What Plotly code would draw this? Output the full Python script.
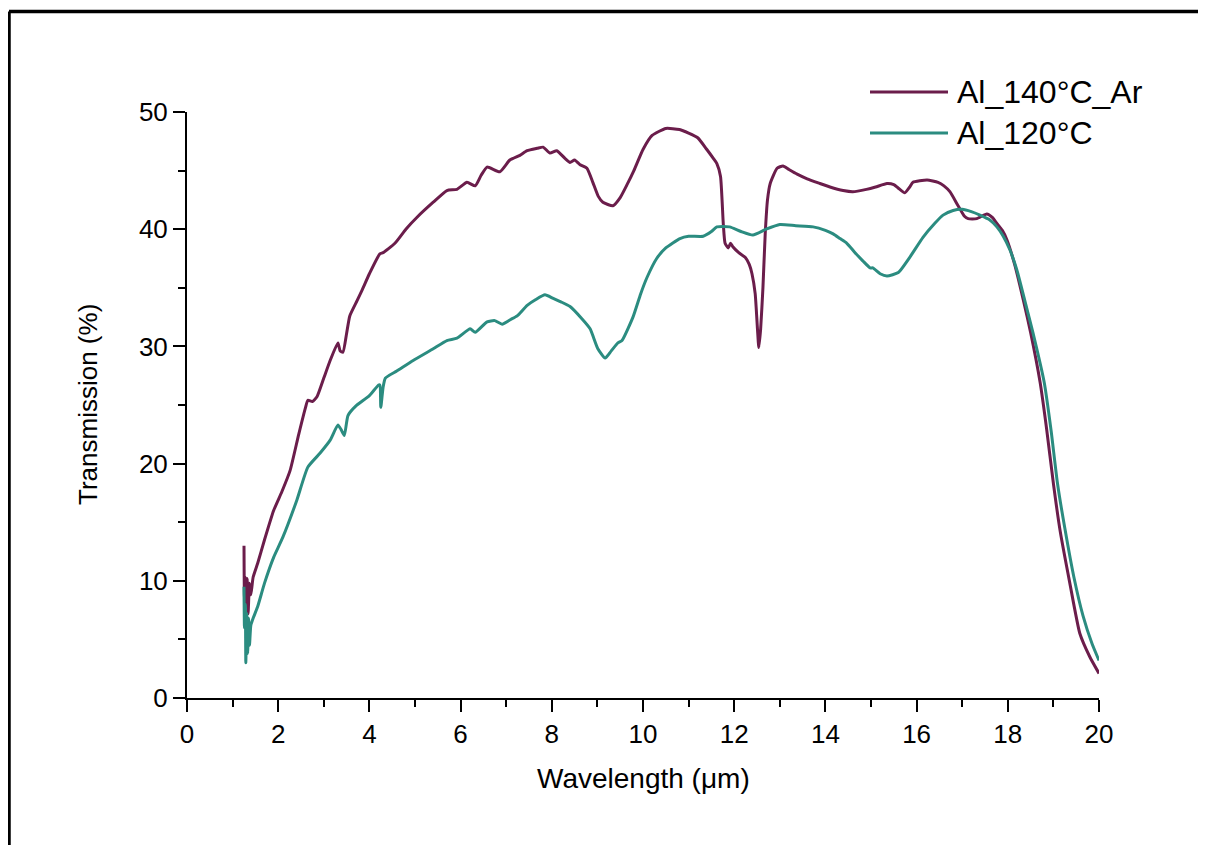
import plotly.graph_objects as go

series_names = ["Al_140°C_Ar", "Al_120°C"]
series_colors = ["#6B1D4B", "#2B8C80"]

x_ar = [1.25, 1.26, 1.28, 1.30, 1.32, 1.34, 1.37, 1.40, 1.45, 1.55, 1.70, 1.90, 2.08, 2.26, 2.45, 2.60,
        2.65, 2.75, 2.85, 3.00, 3.15, 3.31, 3.36, 3.42, 3.50, 3.57, 3.73, 3.84, 4.00, 4.23, 4.30, 4.56,
        4.80, 5.04, 5.40, 5.70, 5.92, 6.14, 6.32, 6.45, 6.58, 6.86, 7.08, 7.30, 7.46, 7.68, 7.81, 7.96,
        8.11, 8.30, 8.40, 8.50, 8.62, 8.77, 8.90, 9.02, 9.12, 9.34, 9.50, 9.65, 9.80, 10.00, 10.20, 10.50,
        10.80, 11.00, 11.20, 11.40, 11.55, 11.62, 11.70, 11.76, 11.80, 11.87, 11.92, 11.97, 12.10, 12.24,
        12.33, 12.39, 12.46, 12.51, 12.54, 12.58, 12.63, 12.68, 12.73, 12.79, 12.94, 13.07, 13.20, 13.38,
        13.60, 13.88, 14.10, 14.39, 14.60, 14.90, 15.10, 15.35, 15.50, 15.60, 15.74, 15.85, 15.92, 16.23,
        16.47, 16.60, 16.73, 16.91, 17.05, 17.13, 17.32, 17.54, 17.66, 17.76, 17.88, 17.98, 18.15, 18.35,
        18.50, 18.71, 18.85, 19.00, 19.15, 19.36, 19.58, 19.80, 20.00]
y_ar = [13.0, 8.5, 10.3, 7.8, 10.2, 7.2, 9.8, 8.8, 10.3, 11.5, 13.5, 16.0, 17.6, 19.4, 22.5, 24.8,
        25.4, 25.3, 25.7, 27.3, 28.9, 30.3, 29.6, 29.5, 31.1, 32.6, 33.9, 34.8, 36.2, 37.9, 38.0, 38.8,
        40.0, 41.0, 42.3, 43.3, 43.4, 44.0, 43.7, 44.6, 45.3, 44.9, 45.9, 46.3, 46.7, 46.9, 47.0, 46.5,
        46.7, 46.0, 45.7, 45.9, 45.5, 45.2, 44.0, 42.8, 42.3, 42.0, 42.7, 43.8, 45.0, 46.8, 48.0, 48.6,
        48.5, 48.2, 47.8, 46.8, 46.0, 45.6, 44.5, 40.5, 38.8, 38.4, 38.8, 38.5, 38.0, 37.6,
        37.0, 36.2, 34.5, 31.5, 29.9, 31.5, 35.0, 39.6, 42.5, 43.9, 45.2, 45.4, 45.1, 44.7,
        44.3, 43.9, 43.6, 43.3, 43.2, 43.4, 43.6, 43.9, 43.8, 43.5, 43.1, 43.6, 44.0, 44.2,
        44.0, 43.7, 43.2, 42.0, 41.1, 40.9, 40.9, 41.3, 41.0, 40.5, 39.9, 39.1, 37.0, 33.8,
        31.2, 26.9, 23.0, 18.3, 14.2, 9.8, 5.5, 3.5, 2.1]

x_120 = [1.25, 1.26, 1.28, 1.29, 1.31, 1.33, 1.35, 1.37, 1.40, 1.45, 1.55, 1.70, 1.90, 2.10, 2.41, 2.65,
         2.92, 3.14, 3.31, 3.38, 3.45, 3.53, 3.70, 4.00, 4.20, 4.23, 4.25, 4.30, 4.35, 4.60, 4.96, 5.40,
         5.70, 5.92, 6.21, 6.32, 6.58, 6.75, 6.91, 7.10, 7.24, 7.46, 7.65, 7.85, 8.03, 8.20, 8.40, 8.65,
         8.84, 9.01, 9.17, 9.30, 9.45, 9.54, 9.78, 9.95, 10.09, 10.30, 10.50, 10.81, 11.00, 11.32, 11.50,
         11.62, 11.90, 12.15, 12.41, 12.70, 13.00, 13.35, 13.73, 14.00, 14.17, 14.32, 14.47, 14.65, 14.82,
         14.98, 15.04, 15.20, 15.35, 15.60, 15.85, 16.14, 16.40, 16.58, 16.80, 17.00, 17.20, 17.39, 17.60,
         17.76, 17.90, 18.05, 18.20, 18.38, 18.55, 18.80, 18.95, 19.09, 19.25, 19.45, 19.65, 19.85, 20.00]
y_120 = [9.5, 6.0, 8.0, 3.0, 7.2, 3.8, 6.8, 4.5, 6.2, 6.8, 7.8, 9.8, 12.0, 13.7, 16.9, 19.7,
         20.9, 22.0, 23.3, 22.9, 22.4, 24.1, 24.9, 25.8, 26.7, 26.7, 24.8, 26.5, 27.3, 27.9, 28.8, 29.8,
         30.5, 30.7, 31.5, 31.2, 32.1, 32.2, 31.9, 32.3, 32.6, 33.5, 34.0, 34.4, 34.1, 33.8, 33.4, 32.4,
         31.5, 29.8, 29.0, 29.6, 30.3, 30.5, 32.5, 34.5, 35.9, 37.5, 38.4, 39.2, 39.4, 39.4, 39.8,
         40.2, 40.2, 39.8, 39.5, 40.0, 40.4, 40.3, 40.2, 39.9, 39.6, 39.2, 38.8, 38.0, 37.3,
         36.7, 36.7, 36.2, 36.0, 36.3, 37.6, 39.3, 40.5, 41.2, 41.6, 41.7, 41.5, 41.2, 40.8,
         40.2, 39.4, 38.2, 36.5, 33.8, 31.2, 26.9, 22.8, 18.3, 14.5, 10.3, 7.0, 4.6, 3.2]

x_ticks = [0, 2, 4, 6, 8, 10, 12, 14, 16, 18, 20]
y_ticks = [0, 10, 20, 30, 40, 50]
x_title = "Wavelength (μm)"
y_title = "Transmission (%)"

OFF = 8  # page body margin
W, H = 1206 - OFF, 845 - OFF
X0, X1, Y0, Y1 = 187, 1099, 698, 112  # plot area in page pixels
ML, MT = X0 - OFF, Y1 - OFF
PW, PH = X1 - X0, Y0 - Y1
MR, MB = W - ML - PW, H - MT - PH


def px(xp):
    return (xp - X0) / PW


def py(yp):
    return (Y0 - yp) / PH


FONT = "Liberation Sans, Arial, sans-serif"

fig = go.Figure()
fig.add_trace(go.Scatter(x=x_ar, y=y_ar, mode="lines", name=series_names[0],
                         line=dict(color=series_colors[0], width=3, shape="spline", smoothing=0.5),
                         showlegend=False))
fig.add_trace(go.Scatter(x=x_120, y=y_120, mode="lines", name=series_names[1],
                         line=dict(color=series_colors[1], width=3, shape="spline", smoothing=0.5),
                         showlegend=False))

axis_common = dict(showline=True, linecolor="black", linewidth=2, ticks="outside",
                   ticklen=12, tickwidth=2, tickcolor="black", showgrid=False, zeroline=False,
                   mirror=False, tickfont=dict(family=FONT, size=26, color="black"))

fig.update_xaxes(range=[0, 20], tickvals=x_ticks,
                 minor=dict(dtick=1, ticklen=7, tickwidth=2, tickcolor="black", ticks="outside"),
                 **axis_common)
fig.update_yaxes(range=[0, 50], tickvals=y_ticks,
                 minor=dict(dtick=5, ticklen=7, tickwidth=2, tickcolor="black", ticks="outside"),
                 **axis_common)

shapes = []
# outer frame (top and left edges visible)
shapes.append(dict(type="line", xref="paper", yref="paper", x0=px(9), x1=px(1230), y0=py(11.5), y1=py(11.5),
                   line=dict(color="black", width=3.5)))
shapes.append(dict(type="line", xref="paper", yref="paper", x0=px(9), x1=px(9), y0=py(11.5), y1=py(870),
                   line=dict(color="black", width=3.5)))
annotations = []
leg_rows = [92, 133]
for name, color, yr in zip(series_names, series_colors, leg_rows):
    shapes.append(dict(type="line", xref="paper", yref="paper", x0=px(870), x1=px(948), y0=py(yr), y1=py(yr),
                       line=dict(color=color, width=3)))
    annotations.append(dict(text=name, xref="paper", yref="paper", x=px(955), y=py(yr), xanchor="left",
                            yanchor="middle", showarrow=False,
                            font=dict(family=FONT, size=32, color="black")))

annotations.append(dict(text=x_title, xref="paper", yref="paper", x=px(643), y=py(778), xanchor="center",
                        yanchor="middle", showarrow=False, font=dict(family=FONT, size=28, color="black")))
annotations.append(dict(text=y_title, xref="paper", yref="paper", x=px(88), y=py(405), xanchor="center",
                        yanchor="middle", showarrow=False, textangle=-90,
                        font=dict(family=FONT, size=26, color="black")))

fig.update_layout(width=W, height=H, margin=dict(l=ML, r=MR, t=MT, b=MB, autoexpand=False),
                  paper_bgcolor="white", plot_bgcolor="white", shapes=shapes, annotations=annotations,
                  showlegend=False, font=dict(family=FONT, color="black"))

fig.write_html("out.html")
